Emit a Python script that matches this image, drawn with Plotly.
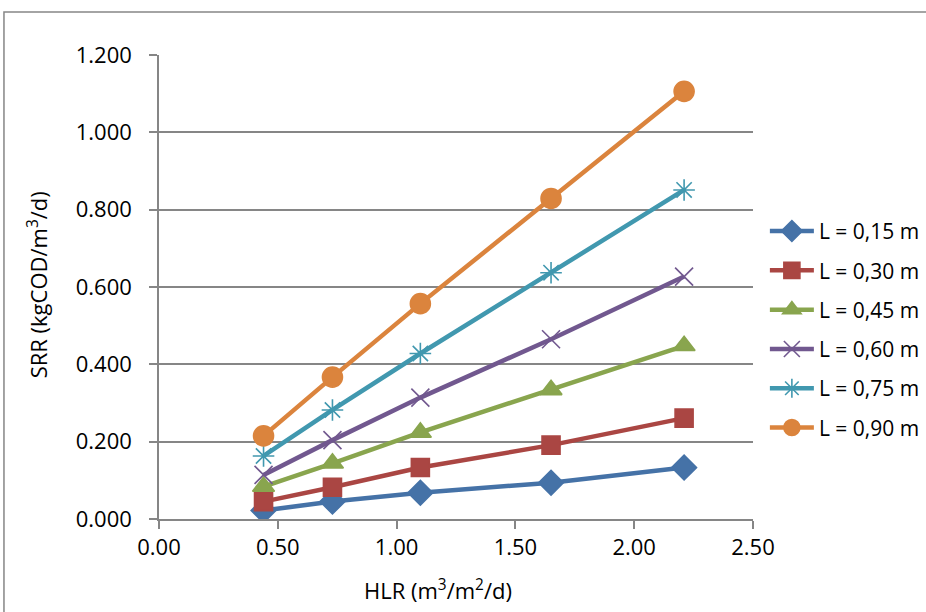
import plotly.graph_objects as go

hlr = [0.44, 0.73, 1.10, 1.65, 2.21]
names = ["L = 0,15 m", "L = 0,30 m", "L = 0,45 m", "L = 0,60 m", "L = 0,75 m", "L = 0,90 m"]
srr = [
    [0.022, 0.045, 0.068, 0.094, 0.133],
    [0.045, 0.082, 0.133, 0.191, 0.261],
    [0.084, 0.144, 0.224, 0.334, 0.448],
    [0.114, 0.204, 0.314, 0.465, 0.627],
    [0.163, 0.282, 0.428, 0.637, 0.851],
    [0.215, 0.367, 0.557, 0.829, 1.106],
]
x_title = "HLR (m<sup>3</sup>/m<sup>2</sup>/d)"
y_title = "SRR (kgCOD/m<sup>3</sup>/d)"

colors = ["#4572A7", "#AA4643", "#89A54E", "#71588F", "#4198AF", "#DB843D"]
symbols = ["diamond", "square", "triangle-up", "x-thin-open", "asterisk-open", "circle"]
sizes = [19, 18, 19, 18, 18, 20]

FONT = "Open Sans"
fig = go.Figure()
for i in range(6):
    fig.add_trace(go.Scatter(
        x=hlr, y=srr[i], name=names[i], mode="lines+markers",
        legendgroup=str(i),
        line=dict(color=colors[i], width=4.5),
        marker=dict(symbol=symbols[i], size=sizes[i], color=colors[i],
                    line=dict(color=colors[i], width=1.6)),
    ))

fig.update_layout(
    width=926, height=612,
    margin=dict(l=159, r=173, t=55, b=93, autoexpand=False),
    paper_bgcolor="white", plot_bgcolor="white",
    font=dict(family=FONT, size=22, color="black"),
    showlegend=True,
    legend=dict(x=1.02, y=0.664, xanchor="left", yanchor="top",
                font=dict(family=FONT, size=21), tracegroupgap=9,
                bgcolor="rgba(0,0,0,0)", itemwidth=44),
    xaxis=dict(range=[0, 2.5], dtick=0.5, tickformat=".2f",
               showgrid=False, zeroline=False,
               showline=True, linecolor="#868686", linewidth=1.5,
               ticks="outside", ticklen=8, tickcolor="#868686", tickwidth=1.5,
               tickfont=dict(family=FONT, size=22)),
    yaxis=dict(range=[0, 1.2], dtick=0.2, tickformat=".3f",
               showgrid=True, gridcolor="#868686", gridwidth=1.5,
               zeroline=False,
               showline=True, linecolor="#868686", linewidth=1.5,
               ticks="outside", ticklen=8, tickcolor="#868686", tickwidth=1.5,
               ticklabelstandoff=13,
               tickfont=dict(family=FONT, size=22)),
)
fig.add_annotation(text=x_title, xref="paper", yref="paper", x=0.4697, y=-0.151,
                   xanchor="center", yanchor="middle", showarrow=False,
                   font=dict(family=FONT, size=22))
fig.add_annotation(text=y_title, xref="paper", yref="paper", x=-0.205, y=0.504,
                   xanchor="center", yanchor="middle", showarrow=False, textangle=-90,
                   font=dict(family=FONT, size=22))
fig.add_shape(type="rect", xref="paper", yref="paper",
              x0=-0.261, x1=1.5, y0=-0.5, y1=1.0927,
              line=dict(color="#868686", width=1.5), fillcolor="rgba(0,0,0,0)",
              layer="below")

fig.write_html("out.html", config={"displayModeBar": False},
               post_script="document.body.style.margin='0';")
